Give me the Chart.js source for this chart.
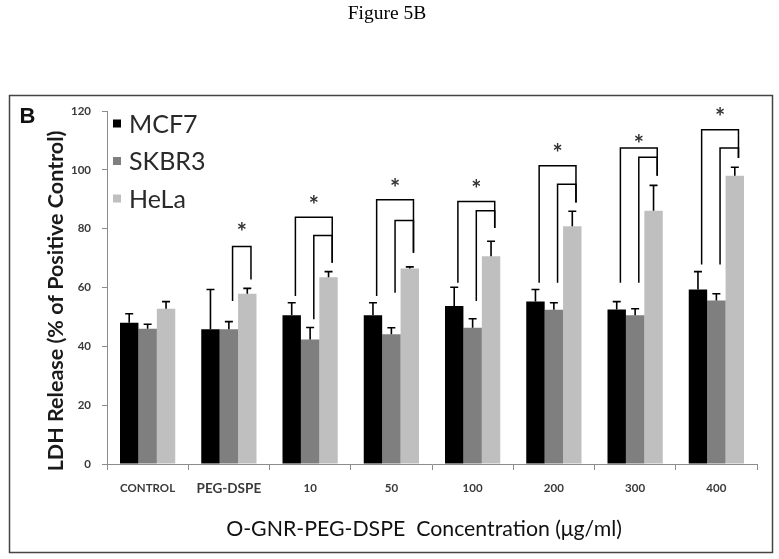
<!DOCTYPE html>
<html>
<head>
<meta charset="utf-8">
<title>Figure 5B</title>
<script src="https://cdn.jsdelivr.net/npm/chart.js@4.4.0/dist/chart.umd.min.js"></script>
<style>
  html, body { margin: 0; padding: 0; background: #fff; }
  canvas { display: block; }
</style>
</head>
<body>
<canvas id="ldh_chart" width="779" height="559"></canvas>
<script>
// categories and series
const CATEGORIES = ["CONTROL", "PEG-DSPE", "10", "50", "100", "200", "300", "400"];
const SERIES_NAMES = ["MCF7", "SKBR3", "HeLa"];
const SERIES_COLORS = ["#000000", "#7f7f7f", "#bfbfbf"];

const MCF7 = [48.0, 45.8, 50.6, 50.6, 53.7, 55.2, 52.5, 59.3];
const MCF7_ERR = [3.1, 13.5, 4.2, 4.2, 6.4, 4.1, 2.7, 6.1];
const SKBR3 = [46.0, 45.8, 42.3, 44.1, 46.3, 52.4, 50.6, 55.6];
const SKBR3_ERR = [1.5, 2.6, 4.1, 2.2, 3.1, 2.4, 2.2, 2.3];
const HELA = [52.8, 57.9, 63.5, 66.5, 70.6, 80.8, 86.1, 98.0];
const HELA_ERR = [2.4, 1.8, 1.9, 0.5, 5.1, 5.1, 8.6, 2.9];

const Y_MIN = 0;
const Y_MAX = 120;
const Y_STEP = 20;

// significance brackets: each one goes from a bar of series BRACKET_FROM to the HeLa bar
const BRACKET_CATEGORY = [1, 2, 2, 3, 3, 4, 4, 5, 5, 6, 6, 7, 7];
const BRACKET_FROM = [1, 0, 1, 0, 1, 0, 1, 0, 1, 0, 1, 0, 1];
const BRACKET_TOP = [73.9, 83.9, 77.7, 89.8, 82.8, 89.2, 86.1, 101.4, 95.1, 107.4, 104.3, 113.6, 107.4];
const BRACKET_LEFT_END = [55.4, 57.1, 49.2, 57.1, 58.2, 61.6, 55.4, 61.6, 61.6, 61.6, 61.6, 67.8, 67.8];
const BRACKET_RIGHT_END = [62.7, 68.4, 68.4, 71.8, 71.8, 80.2, 80.2, 88.9, 88.9, 98.0, 98.0, 104.0, 104.0];
const STAR_LEVEL = [null, 80.8, 89.8, 95.7, 95.5, 107.7, 110.8, 119.8];

const TEXT_FONT = "Lato";

window.onload = init;

function init() {
  const ctx = document.getElementById("ldh_chart");
  const values = [MCF7, SKBR3, HELA];
  const errors = [MCF7_ERR, SKBR3_ERR, HELA_ERR];

  let datasets = SERIES_NAMES.map(function (name, i) {
    return {
      label: name,
      data: values[i],
      errors: errors[i],
      backgroundColor: SERIES_COLORS[i],
      borderWidth: 0,
      categoryPercentage: 0.68,
      barPercentage: 1.0,
    };
  });

  new Chart(ctx, {
    type: "bar",
    data: { labels: CATEGORIES, datasets: datasets },
    options: getOptions(),
    plugins: [pagePlugin, errorBarPlugin, bracketPlugin, legendPlugin],
  });
}

function getOptions() {
  return {
    responsive: false,
    animation: false,
    devicePixelRatio: 1,
    layout: { padding: { top: 111, right: 22, bottom: 0, left: 0 } },
    plugins: {
      legend: { display: false },
      tooltip: { enabled: false },
    },
    scales: {
      x: {
        grid: {
          offset: true,
          drawOnChartArea: false,
          drawTicks: true,
          tickLength: 6,
          color: "#8c8c8c",
        },
        border: { color: "#8c8c8c", width: 1 },
        ticks: {
          color: "#3a3a3a",
          padding: 11,
          font: function (c) {
            return { family: TEXT_FONT, weight: "bold", size: c.index === 1 ? 13.5 : 11.5 };
          },
        },
        title: {
          display: true,
          // trailing em space nudges the title a little left, as in the figure
          text: "O-GNR-PEG-DSPE  Concentration (\u03bcg/ml)\u2003",
          color: "#111111",
          font: { family: TEXT_FONT, size: 21.3 },
          padding: { top: 0, bottom: 17 },
        },
        afterFit: function (s) { s.height = 95; },
      },
      y: {
        min: Y_MIN,
        max: Y_MAX,
        grid: {
          drawOnChartArea: false,
          drawTicks: true,
          tickLength: 5,
          color: "#8c8c8c",
        },
        border: { color: "#8c8c8c", width: 1 },
        ticks: {
          stepSize: Y_STEP,
          color: "#3a3a3a",
          padding: 11,
          font: { family: TEXT_FONT, weight: "bold", size: 11.5 },
        },
        title: {
          display: true,
          // trailing spaces push the rotated title down a bit
          text: "LDH Release (% of Positive Control)\u2003\u2002",
          color: "#1a1a1a",
          font: { family: TEXT_FONT, weight: "bold", size: 21.5 },
          padding: { top: 43, bottom: 0 },
        },
        afterFit: function (s) { s.width = 107; },
      },
    },
  };
}

// page title, panel letter and frame
const pagePlugin = {
  id: "page",
  afterDraw: function (chart) {
    const c = chart.ctx;
    c.save();
    c.fillStyle = "#000";
    c.font = "19.5px 'Liberation Serif'";
    c.textAlign = "center";
    c.textBaseline = "alphabetic";
    c.fillText("Figure 5B", 387, 19);

    c.strokeStyle = "#444";
    c.lineWidth = 1.5;
    c.strokeRect(9.5, 95.5, 763, 457);

    c.font = "bold 22px 'Liberation Sans'";
    c.textAlign = "center";
    c.textBaseline = "middle";
    c.fillStyle = "#111";
    c.fillText("B", 27.5, 116.5);
    c.restore();
  },
};

// upward error bars with caps
const errorBarPlugin = {
  id: "errorBars",
  afterDatasetsDraw: function (chart) {
    const c = chart.ctx;
    const yScale = chart.scales.y;
    c.save();
    c.strokeStyle = "#000";
    c.lineWidth = 1.6;
    chart.data.datasets.forEach(function (ds, i) {
      const meta = chart.getDatasetMeta(i);
      meta.data.forEach(function (bar, j) {
        const yTop = yScale.getPixelForValue(ds.data[j] + ds.errors[j]);
        c.beginPath();
        c.moveTo(bar.x, bar.y);
        c.lineTo(bar.x, yTop);
        c.moveTo(bar.x - 4, yTop);
        c.lineTo(bar.x + 4, yTop);
        c.stroke();
      });
    });
    c.restore();
  },
};

// brackets and asterisks
const bracketPlugin = {
  id: "brackets",
  afterDatasetsDraw: function (chart) {
    const c = chart.ctx;
    const yScale = chart.scales.y;
    const helaMeta = chart.getDatasetMeta(2);
    let spans = {};
    c.save();
    c.strokeStyle = "#000";
    c.lineWidth = 1.5;
    BRACKET_CATEGORY.forEach(function (cat, k) {
      const fromBar = chart.getDatasetMeta(BRACKET_FROM[k]).data[cat];
      const toBar = helaMeta.data[cat];
      const x1 = fromBar.x + fromBar.width * 0.2;
      const x2 = toBar.x + toBar.width * 0.2;
      const yTop = yScale.getPixelForValue(BRACKET_TOP[k]);
      c.beginPath();
      c.moveTo(x1, yScale.getPixelForValue(BRACKET_LEFT_END[k]));
      c.lineTo(x1, yTop);
      c.lineTo(x2, yTop);
      c.lineTo(x2, yScale.getPixelForValue(BRACKET_RIGHT_END[k]));
      c.stroke();
      if (!spans[cat] || x1 < spans[cat][0]) spans[cat] = [x1, x2];
    });

    c.fillStyle = "#333";
    c.font = "bold 24px " + TEXT_FONT;
    c.textAlign = "center";
    c.textBaseline = "alphabetic";
    const m = c.measureText("*");
    const mid = (m.actualBoundingBoxAscent - m.actualBoundingBoxDescent) / 2;
    STAR_LEVEL.forEach(function (level, cat) {
      if (level === null || !spans[cat]) return;
      const x = (spans[cat][0] + spans[cat][1]) / 2;
      c.fillText("*", x, yScale.getPixelForValue(level) + mid);
    });
    c.restore();
  },
};

// legend inside the plot, top left
const legendPlugin = {
  id: "insideLegend",
  afterDraw: function (chart) {
    const c = chart.ctx;
    const area = chart.chartArea;
    c.save();
    c.font = "25px " + TEXT_FONT;
    c.textAlign = "left";
    c.textBaseline = "middle";
    chart.data.datasets.forEach(function (ds, i) {
      const y = area.top + 12.5 + i * 37.5;
      c.fillStyle = ds.backgroundColor;
      c.fillRect(area.left + 6, y - 4, 8, 8);
      c.fillStyle = "#2a2a2a";
      c.fillText(ds.label, area.left + 22, y + 1);
    });
    c.restore();
  },
};
</script>
</body>
</html>
